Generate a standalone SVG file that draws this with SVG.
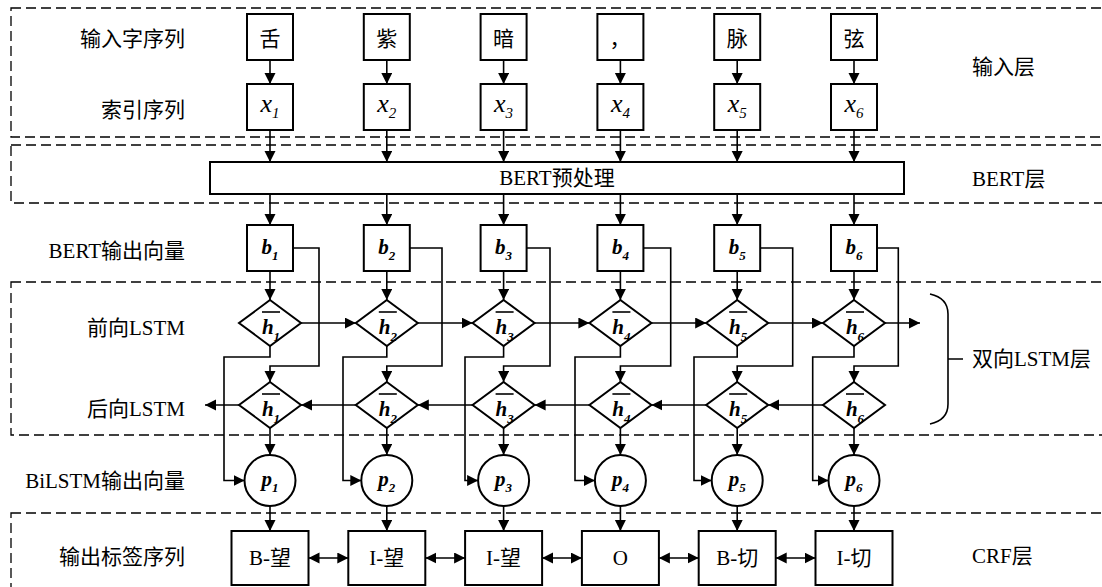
<svg xmlns="http://www.w3.org/2000/svg" width="1102" height="587" viewBox="0 0 1102 587">
<style>
.bg{fill:#fff}
.box{fill:#fff;stroke:#000;stroke-width:2}
.ln{fill:none;stroke:#000;stroke-width:1.6}
.ar{marker-end:url(#ah)}
.dbl{marker-start:url(#ah);marker-end:url(#ah)}
.dash{fill:none;stroke:#000;stroke-width:1.3;stroke-dasharray:10 5}
.lbl{font-family:"Liberation Serif","Times New Roman",serif;font-size:21px;fill:#000}
.cj{font-family:"Noto Sans CJK SC","Noto Sans CJK JP",sans-serif;font-size:21px}
.mid{text-anchor:middle}
.end{text-anchor:end}
.xv{font-family:"Liberation Serif",serif;font-style:italic;font-size:26px;text-anchor:middle}
.bv{font-family:"Liberation Serif",serif;font-style:italic;font-weight:bold;font-size:21px;text-anchor:middle}
.sub{font-size:13px}
.xs{font-size:15px}
.bar{stroke:#000;stroke-width:1.6}
</style>
<defs>
<marker id="ah" markerUnits="userSpaceOnUse" markerWidth="12" markerHeight="12" refX="11" refY="5.5" orient="auto-start-reverse">
<path d="M0,0 L11,5.5 L0,11 z" fill="#000"/>
</marker>
</defs>
<rect class="bg" x="0" y="0" width="1102" height="587"/>

<g id="layers">
<rect class="dash" x="11" y="8" width="1110" height="129"/>
<rect class="dash" x="11" y="145" width="1110" height="58"/>
<rect class="dash" x="11" y="282" width="1110" height="153"/>
<rect class="dash" x="11" y="513" width="1110" height="100"/>
</g>

<g id="left-labels" class="lbl end">
<text x="185" y="46"><tspan class="cj">输入字序列</tspan></text>
<text x="185" y="117"><tspan class="cj">索引序列</tspan></text>
<text x="185" y="258">BERT<tspan class="cj">输出向量</tspan></text>
<text x="185" y="335"><tspan class="cj">前向</tspan>LSTM</text>
<text x="185" y="416"><tspan class="cj">后向</tspan>LSTM</text>
<text x="185" y="488">BiLSTM<tspan class="cj">输出向量</tspan></text>
<text x="185" y="564"><tspan class="cj">输出标签序列</tspan></text>
</g>

<g id="right-labels" class="lbl">
<text x="972" y="74"><tspan class="cj">输入层</tspan></text>
<text x="972" y="186">BERT<tspan class="cj">层</tspan></text>
<text x="972" y="366"><tspan class="cj">双向</tspan>LSTM<tspan class="cj">层</tspan></text>
<text x="972" y="563">CRF<tspan class="cj">层</tspan></text>
</g>

<g id="brace">
<path class="ln" d="M930,294 Q948,298 948,314 L948,404 Q948,420 930,424 M948,359 H963"/>
</g>

<g id="connectors" class="ln">
<path class="ln ar" d="M270,60 V84"/><path class="ln ar" d="M386.8,60 V84"/><path class="ln ar" d="M503.6,60 V84"/><path class="ln ar" d="M620.4,60 V84"/><path class="ln ar" d="M737.2,60 V84"/><path class="ln ar" d="M854,60 V84"/>
<path class="ln ar" d="M270,130 V162"/><path class="ln ar" d="M386.8,130 V162"/><path class="ln ar" d="M503.6,130 V162"/><path class="ln ar" d="M620.4,130 V162"/><path class="ln ar" d="M737.2,130 V162"/><path class="ln ar" d="M854,130 V162"/>
<path class="ln ar" d="M270,194 V225"/><path class="ln ar" d="M386.8,194 V225"/><path class="ln ar" d="M503.6,194 V225"/><path class="ln ar" d="M620.4,194 V225"/><path class="ln ar" d="M737.2,194 V225"/><path class="ln ar" d="M854,194 V225"/>
<path class="ln ar" d="M270,271 V300"/><path class="ln ar" d="M386.8,271 V300"/><path class="ln ar" d="M503.6,271 V300"/><path class="ln ar" d="M620.4,271 V300"/><path class="ln ar" d="M737.2,271 V300"/><path class="ln ar" d="M854,271 V300"/>
<path class="ln ar" d="M293,248 H319 V366 H270 V382"/>
<path class="ln ar" d="M409.8,248 H442 V366 H386.8 V382"/>
<path class="ln ar" d="M526.6,248 H550 V366 H503.6 V382"/>
<path class="ln ar" d="M643.4,248 H670.7 V366 H620.4 V382"/>
<path class="ln ar" d="M760.2,248 H792.7 V366 H737.2 V382"/>
<path class="ln ar" d="M877,248 H898.3 V366 H854 V382"/>
<path class="ln ar" d="M270,346 V357 H224 V480.5 H244.5"/>
<path class="ln ar" d="M386.8,346 V357 H343 V480.5 H361.3"/>
<path class="ln ar" d="M503.6,346 V357 H465 V480.5 H478.1"/>
<path class="ln ar" d="M620.4,346 V357 H575 V480.5 H594.9"/>
<path class="ln ar" d="M737.2,346 V357 H694 V480.5 H711.7"/>
<path class="ln ar" d="M854,346 V357 H812.7 V480.5 H828.5"/>
<path class="ln ar" d="M301,323 H355.8"/><path class="ln ar" d="M417.8,323 H472.6"/><path class="ln ar" d="M534.6,323 H589.4"/><path class="ln ar" d="M651.4,323 H706.2"/><path class="ln ar" d="M768.2,323 H823"/><path class="ln ar" d="M885,323 H920"/>
<path class="ln ar" d="M355.8,405 H301"/><path class="ln ar" d="M472.6,405 H417.8"/><path class="ln ar" d="M589.4,405 H534.6"/><path class="ln ar" d="M706.2,405 H651.4"/><path class="ln ar" d="M823,405 H768.2"/><path class="ln ar" d="M239,405 H205"/>
<path class="ln ar" d="M270,428 V455"/><path class="ln ar" d="M386.8,428 V455"/><path class="ln ar" d="M503.6,428 V455"/><path class="ln ar" d="M620.4,428 V455"/><path class="ln ar" d="M737.2,428 V455"/><path class="ln ar" d="M854,428 V455"/>
<path class="ln ar" d="M270,506 V531"/><path class="ln ar" d="M386.8,506 V531"/><path class="ln ar" d="M503.6,506 V531"/><path class="ln ar" d="M620.4,506 V531"/><path class="ln ar" d="M737.2,506 V531"/><path class="ln ar" d="M854,506 V531"/>
<path class="ln dbl" d="M308.5,558 H348.3"/><path class="ln dbl" d="M425.3,558 H465.1"/><path class="ln dbl" d="M542.1,558 H581.9"/><path class="ln dbl" d="M658.9,558 H698.7"/><path class="ln dbl" d="M775.7,558 H815.5"/>
</g>

<g id="bert">
<rect class="box" x="210" y="162" width="694" height="32"/>
<text class="lbl mid" x="557" y="185">BERT<tspan class="cj">预处理</tspan></text>
</g>

<g id="col1">
<rect class="box" x="247" y="14" width="46" height="46"/><text class="lbl mid" x="270" y="45.5"><tspan class="cj">舌</tspan></text>
<rect class="box" x="247" y="84" width="46" height="46"/><text class="xv" x="270" y="112">x<tspan class="xs" dy="6">1</tspan></text>
<rect class="box" x="247" y="225" width="46" height="46"/><text class="bv" x="270" y="254">b<tspan class="sub" dy="6">1</tspan></text>
<polygon class="box" points="270,300 301,323 270,346 239,323"/><line class="bar" x1="262" y1="312" x2="280" y2="312"/><text class="bv" x="271" y="333.5">h<tspan class="sub" dy="7">1</tspan></text>
<polygon class="box" points="270,382 301,405 270,428 239,405"/><line class="bar" x1="262" y1="394" x2="280" y2="394"/><text class="bv" x="271" y="415.5">h<tspan class="sub" dy="7">1</tspan></text>
<circle class="box" cx="270" cy="480.5" r="25.5"/><text class="bv" x="270" y="486">p<tspan class="sub" dy="6">1</tspan></text>
<rect class="box" x="231.5" y="531" width="77" height="54"/><text class="lbl mid" x="270" y="565">B-<tspan class="cj">望</tspan></text>
</g>

<g id="col2">
<rect class="box" x="363.8" y="14" width="46" height="46"/><text class="lbl mid" x="386.8" y="45.5"><tspan class="cj">紫</tspan></text>
<rect class="box" x="363.8" y="84" width="46" height="46"/><text class="xv" x="386.8" y="112">x<tspan class="xs" dy="6">2</tspan></text>
<rect class="box" x="363.8" y="225" width="46" height="46"/><text class="bv" x="386.8" y="254">b<tspan class="sub" dy="6">2</tspan></text>
<polygon class="box" points="386.8,300 417.8,323 386.8,346 355.8,323"/><line class="bar" x1="378.8" y1="312" x2="396.8" y2="312"/><text class="bv" x="387.8" y="333.5">h<tspan class="sub" dy="7">2</tspan></text>
<polygon class="box" points="386.8,382 417.8,405 386.8,428 355.8,405"/><line class="bar" x1="378.8" y1="394" x2="396.8" y2="394"/><text class="bv" x="387.8" y="415.5">h<tspan class="sub" dy="7">2</tspan></text>
<circle class="box" cx="386.8" cy="480.5" r="25.5"/><text class="bv" x="386.8" y="486">p<tspan class="sub" dy="6">2</tspan></text>
<rect class="box" x="348.3" y="531" width="77" height="54"/><text class="lbl mid" x="386.8" y="565">I-<tspan class="cj">望</tspan></text>
</g>

<g id="col3">
<rect class="box" x="480.6" y="14" width="46" height="46"/><text class="lbl mid" x="503.6" y="45.5"><tspan class="cj">暗</tspan></text>
<rect class="box" x="480.6" y="84" width="46" height="46"/><text class="xv" x="503.6" y="112">x<tspan class="xs" dy="6">3</tspan></text>
<rect class="box" x="480.6" y="225" width="46" height="46"/><text class="bv" x="503.6" y="254">b<tspan class="sub" dy="6">3</tspan></text>
<polygon class="box" points="503.6,300 534.6,323 503.6,346 472.6,323"/><line class="bar" x1="495.6" y1="312" x2="513.6" y2="312"/><text class="bv" x="504.6" y="333.5">h<tspan class="sub" dy="7">3</tspan></text>
<polygon class="box" points="503.6,382 534.6,405 503.6,428 472.6,405"/><line class="bar" x1="495.6" y1="394" x2="513.6" y2="394"/><text class="bv" x="504.6" y="415.5">h<tspan class="sub" dy="7">3</tspan></text>
<circle class="box" cx="503.6" cy="480.5" r="25.5"/><text class="bv" x="503.6" y="486">p<tspan class="sub" dy="6">3</tspan></text>
<rect class="box" x="465.1" y="531" width="77" height="54"/><text class="lbl mid" x="503.6" y="565">I-<tspan class="cj">望</tspan></text>
</g>

<g id="col4">
<rect class="box" x="597.4" y="14" width="46" height="46"/><text class="lbl mid" x="620" y="45.5"><tspan class="cj">，</tspan></text>
<rect class="box" x="597.4" y="84" width="46" height="46"/><text class="xv" x="620.4" y="112">x<tspan class="xs" dy="6">4</tspan></text>
<rect class="box" x="597.4" y="225" width="46" height="46"/><text class="bv" x="620.4" y="254">b<tspan class="sub" dy="6">4</tspan></text>
<polygon class="box" points="620.4,300 651.4,323 620.4,346 589.4,323"/><line class="bar" x1="612.4" y1="312" x2="630.4" y2="312"/><text class="bv" x="621.4" y="333.5">h<tspan class="sub" dy="7">4</tspan></text>
<polygon class="box" points="620.4,382 651.4,405 620.4,428 589.4,405"/><line class="bar" x1="612.4" y1="394" x2="630.4" y2="394"/><text class="bv" x="621.4" y="415.5">h<tspan class="sub" dy="7">4</tspan></text>
<circle class="box" cx="620.4" cy="480.5" r="25.5"/><text class="bv" x="620.4" y="486">p<tspan class="sub" dy="6">4</tspan></text>
<rect class="box" x="581.9" y="531" width="77" height="54"/><text class="lbl mid" x="620.4" y="565">O</text>
</g>

<g id="col5">
<rect class="box" x="714.2" y="14" width="46" height="46"/><text class="lbl mid" x="737.2" y="45.5"><tspan class="cj">脉</tspan></text>
<rect class="box" x="714.2" y="84" width="46" height="46"/><text class="xv" x="737.2" y="112">x<tspan class="xs" dy="6">5</tspan></text>
<rect class="box" x="714.2" y="225" width="46" height="46"/><text class="bv" x="737.2" y="254">b<tspan class="sub" dy="6">5</tspan></text>
<polygon class="box" points="737.2,300 768.2,323 737.2,346 706.2,323"/><line class="bar" x1="729.2" y1="312" x2="747.2" y2="312"/><text class="bv" x="738.2" y="333.5">h<tspan class="sub" dy="7">5</tspan></text>
<polygon class="box" points="737.2,382 768.2,405 737.2,428 706.2,405"/><line class="bar" x1="729.2" y1="394" x2="747.2" y2="394"/><text class="bv" x="738.2" y="415.5">h<tspan class="sub" dy="7">5</tspan></text>
<circle class="box" cx="737.2" cy="480.5" r="25.5"/><text class="bv" x="737.2" y="486">p<tspan class="sub" dy="6">5</tspan></text>
<rect class="box" x="698.7" y="531" width="77" height="54"/><text class="lbl mid" x="737.2" y="565">B-<tspan class="cj">切</tspan></text>
</g>

<g id="col6">
<rect class="box" x="831" y="14" width="46" height="46"/><text class="lbl mid" x="854" y="45.5"><tspan class="cj">弦</tspan></text>
<rect class="box" x="831" y="84" width="46" height="46"/><text class="xv" x="854" y="112">x<tspan class="xs" dy="6">6</tspan></text>
<rect class="box" x="831" y="225" width="46" height="46"/><text class="bv" x="854" y="254">b<tspan class="sub" dy="6">6</tspan></text>
<polygon class="box" points="854,300 885,323 854,346 823,323"/><line class="bar" x1="846" y1="312" x2="864" y2="312"/><text class="bv" x="855" y="333.5">h<tspan class="sub" dy="7">6</tspan></text>
<polygon class="box" points="854,382 885,405 854,428 823,405"/><line class="bar" x1="846" y1="394" x2="864" y2="394"/><text class="bv" x="855" y="415.5">h<tspan class="sub" dy="7">6</tspan></text>
<circle class="box" cx="854" cy="480.5" r="25.5"/><text class="bv" x="854" y="486">p<tspan class="sub" dy="6">6</tspan></text>
<rect class="box" x="815.5" y="531" width="77" height="54"/><text class="lbl mid" x="854" y="565">I-<tspan class="cj">切</tspan></text>
</g>
</svg>
